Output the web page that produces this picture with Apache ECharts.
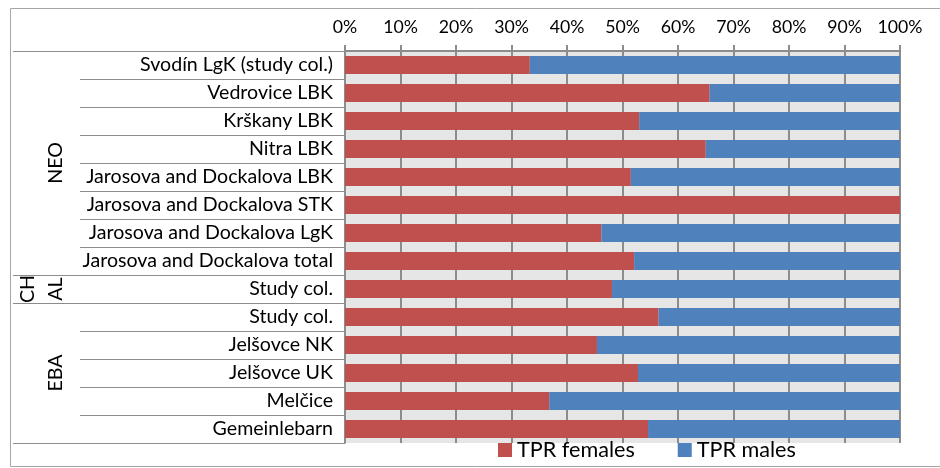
<!DOCTYPE html>
<html><head><meta charset="utf-8">
<script src="https://cdn.jsdelivr.net/npm/echarts@6/dist/echarts.min.js"></script>
<style>html,body{margin:0;padding:0;background:#fff}#c{width:940px;height:468px}</style>
</head><body><div id="c"></div>
<script>
const categories = ['Svodín LgK (study col.)','Vedrovice LBK','Krškany LBK','Nitra LBK','Jarosova and Dockalova LBK','Jarosova and Dockalova STK','Jarosova and Dockalova LgK','Jarosova and Dockalova total','Study col.','Study col.','Jelšovce NK','Jelšovce UK','Melčice','Gemeinlebarn'];
const females = [33.3, 65.7, 53.0, 65.0, 51.5, 100, 46.2, 52.1, 48.1, 56.5, 45.4, 52.8, 36.8, 54.6];
const males   = [66.7, 34.3, 47.0, 35.0, 48.5, 0, 53.8, 47.9, 51.9, 43.5, 54.6, 47.2, 63.2, 45.4];
const seriesNames = ['TPR females', 'TPR males'];
const tickLabels = ['0%','10%','20%','30%','40%','50%','60%','70%','80%','90%','100%'];
const groupLabels = ['NEO', 'CH\nAL', 'EBA'];
const groupFirst = [0, 8, 9];
const groupLast = [7, 8, 13];

const FONT = 'Lato';
const mctx = document.createElement('canvas').getContext('2d');
function fitSize(text, target) {
  mctx.font = '100px ' + FONT;
  return +(target * 100 / mctx.measureText(text).width).toFixed(1);
}
const catFS = fitSize('Jarosova and Dockalova total', 251);
const tickFS = fitSize('100%', 45);
const legFS = fitSize('TPR females', 118);

const gridCol = '#8c8c8c';
const chart = echarts.init(document.getElementById('c'), null, {renderer: 'canvas'});
const option = {
  animation: false,
  backgroundColor: '#fff',
  grid: {left: 345, right: 40, top: 51, bottom: 25, show: true, backgroundColor: '#e6e6e6', borderWidth: 0},
  legend: {
    data: seriesNames, left: 498, top: 439, padding: 0, itemWidth: 14, itemHeight: 14, itemGap: 43, icon: 'rect',
    textStyle: {fontFamily: FONT, fontSize: legFS, color: '#000', lineHeight: 20}
  },
  xAxis: {
    type: 'value', position: 'top', min: 0, max: 100, interval: 10,
    axisLine: {show: true, lineStyle: {color: gridCol, width: 2}},
    axisTick: {show: true, length: 6, lineStyle: {color: gridCol, width: 2}},
    axisLabel: {formatter: v => tickLabels[Math.round(v / 10)], fontFamily: FONT, fontSize: tickFS, color: '#000', margin: Math.round(51 - 27 - tickFS / 2)},
    splitLine: {show: true, lineStyle: {color: gridCol, width: 2}}
  },
  yAxis: [
    {
      type: 'category', inverse: true, data: categories, position: 'left',
      axisLine: {show: true, lineStyle: {color: gridCol, width: 1}},
      axisTick: {show: true, length: 265, interval: 0, lineStyle: {color: gridCol, width: 1}},
      axisLabel: {interval: 0, margin: 12, fontFamily: FONT, fontSize: catFS, color: '#000'}
    },
    {
      type: 'category', inverse: true, data: categories, position: 'left',
      axisLine: {show: false},
      axisTick: {show: true, length: 332, interval: (i) => groupFirst.includes(i), lineStyle: {color: gridCol, width: 1}},
      axisLabel: {show: false}
    }
  ],
  series: [
    {name: seriesNames[0], type: 'bar', stack: 's', yAxisIndex: 0, data: females, barCategoryGap: '36%', itemStyle: {color: '#c0504d'}, silent: true},
    {name: seriesNames[1], type: 'bar', stack: 's', yAxisIndex: 0, data: males, barCategoryGap: '36%', itemStyle: {color: '#4f81bd'}, silent: true}
  ]
};
chart.setOption(option);

const graphics = [{type: 'rect', silent: true, shape: {x: 10.5, y: 8.5, width: 935, height: 458}, style: {fill: 'none', stroke: '#a6a6a6', lineWidth: 1}}];
groupLabels.forEach((t, k) => {
  const y0 = chart.convertToPixel({yAxisIndex: 0}, groupFirst[k]);
  const y1 = chart.convertToPixel({yAxisIndex: 0}, groupLast[k]);
  const lines = t.split('\n').length;
  graphics.push({
    type: 'text', silent: true, x: 56 - (lines - 1) * 14, y: (y0 + y1) / 2, rotation: Math.PI / 2,
    style: {text: t, fontFamily: FONT, fontSize: catFS, fill: '#000', align: 'center', verticalAlign: 'middle', lineHeight: 28}
  });
});
chart.setOption({graphic: graphics});
</script></body></html>
